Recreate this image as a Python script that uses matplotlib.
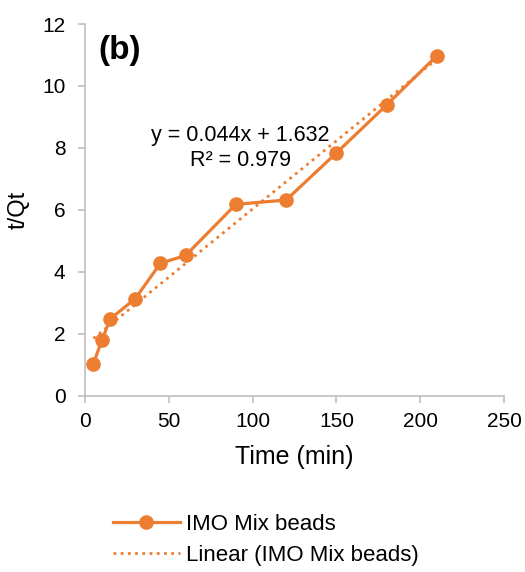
import matplotlib.pyplot as plt
import numpy as np

plt.rcParams['font.family'] = ['Liberation Sans', 'DejaVu Sans']

time_min = [5, 10, 15, 30, 45, 60, 90, 120, 150, 180, 210]
t_qt = [1.04, 1.79, 2.48, 3.14, 4.28, 4.53, 6.18, 6.32, 7.84, 9.39, 10.98]
slope = 0.044
intercept = 1.632
r2 = 0.979

orange = '#ED7D31'
grey = '#BFBFBF'

fig = plt.figure(figsize=(5.25, 5.72), dpi=100)
ax = fig.add_axes([0.162, 0.308, 0.798, 0.650])

line1, = ax.plot(time_min, t_qt, color=orange, lw=2.3, marker='o', ms=9.5,
                 label='IMO Mix beads')
xs = np.array([time_min[0], time_min[-1]])
line2, = ax.plot(xs, slope * xs + intercept, color=orange, lw=2,
                 linestyle=(0, (1, 1.6)), label='Linear (IMO Mix beads)')

ax.set_xlim(0, 250)
ax.set_ylim(0, 12)
ax.set_xticks(range(0, 251, 50))
ax.set_yticks(range(0, 13, 2))
for s in ['top', 'right']:
    ax.spines[s].set_visible(False)
for s in ['left', 'bottom']:
    ax.spines[s].set_color(grey)
    ax.spines[s].set_linewidth(1.2)
ax.tick_params(colors=grey, labelcolor='black', labelsize=15, length=5, width=1.2)
ax.tick_params(axis='x', pad=7)
ax.tick_params(axis='y', pad=9)
ax.set_xlabel('Time (min)', fontsize=18, va='center')
ax.set_ylabel('t/Qt', fontsize=17, va='center')
ax.xaxis.set_label_coords(0.5, -0.165)
ax.yaxis.set_label_coords(-0.158, 0.5)

ax.text(0.031, 0.93, '(b)', transform=ax.transAxes, fontsize=24,
        fontweight='bold', va='center')
ax.text(92.5, 8.0, f'y = {slope}x + {intercept}\nR² = {r2}', fontsize=15.5,
        ha='center', va='center', multialignment='center', linespacing=1.2)

fig.legend(handles=[line1, line2], loc='upper left',
           bbox_to_anchor=(0.215, 0.102), frameon=False, fontsize=16,
           handlelength=3.0, handletextpad=0.3, labelspacing=0.45,
           borderpad=0, borderaxespad=0)

fig.savefig('out.png', dpi=100)
